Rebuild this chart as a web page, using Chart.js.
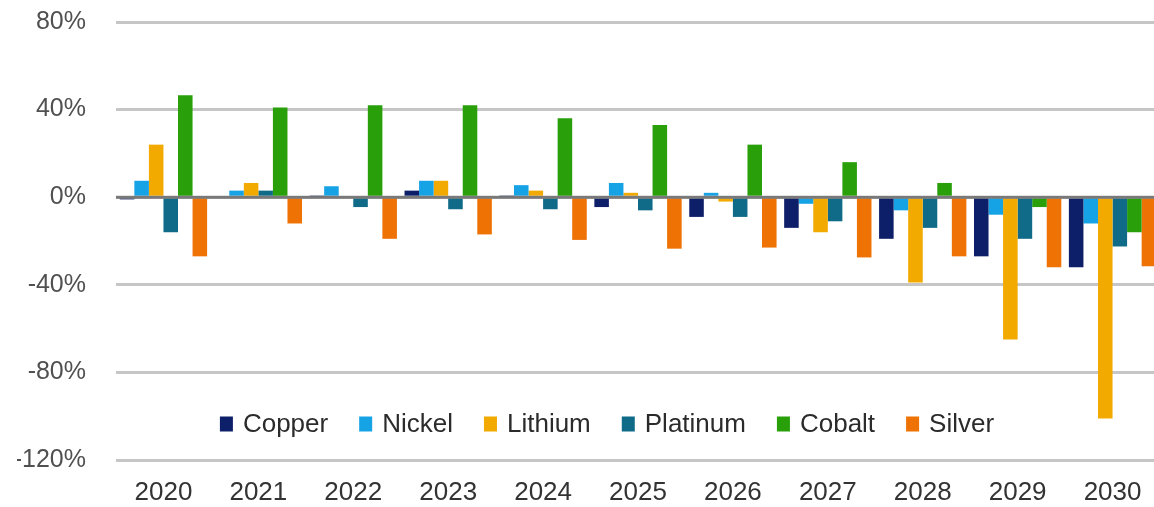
<!DOCTYPE html>
<html>
<head>
<meta charset="utf-8">
<script src="https://cdn.jsdelivr.net/npm/chart.js@4/dist/chart.umd.min.js"></script>
<style>
  html, body { margin: 0; padding: 0; background: #ffffff; overflow: hidden; }
  #wrap { width: 1162px; height: 507px; }
</style>
</head>
<body>
<div id="wrap"><canvas id="c" width="1162" height="507"></canvas></div>
<script>
// Year-on-year change by metal, in percent
const years = ['2020', '2021', '2022', '2023', '2024', '2025', '2026', '2027', '2028', '2029', '2030'];
const copper   = [-1, 0, 0.5, 3, 0.5, -4.5, -9, -14, -19, -27, -32];
const nickel   = [7.5, 3, 5, 7.5, 5.5, 6.5, 2, -3, -6, -8, -12];
const lithium  = [24, 6.5, 0, 7.5, 3, 2, -2, -16, -39, -65, -101];
const platinum = [-16, 3, -4.5, -5.5, -5.5, -6, -9, -11, -14, -19, -22.5];
const cobalt   = [46.5, 41, 42, 42, 36, 33, 24, 16, 6.5, -4.5, -16];
const silver   = [-27, -12, -19, -17, -19.5, -23.5, -23, -27.5, -27, -32, -31.5];
const yTickValues = [80, 40, 0, -40, -80, -120];

const seriesNames  = ['Copper', 'Nickel', 'Lithium', 'Platinum', 'Cobalt', 'Silver'];
const seriesValues = [copper, nickel, lithium, platinum, cobalt, silver];
const seriesColors = ['#0d1f68', '#16a3e6', '#f3aa00', '#0f6b87', '#29a00a', '#ee7204'];

const FONT = 'Liberation Sans, Arial, sans-serif';

// Darker axis line at 0%, drawn over the bars
const zeroLine = {
  id: 'zeroLine',
  afterDatasetsDraw(chart) {
    const { ctx, chartArea, scales } = chart;
    const y = scales.y.getPixelForValue(0);
    ctx.save();
    ctx.strokeStyle = 'rgba(70,70,70,0.6)';
    ctx.lineWidth = 3;
    ctx.beginPath();
    ctx.moveTo(chartArea.left, y);
    ctx.lineTo(chartArea.right, y);
    ctx.stroke();
    ctx.restore();
  }
};

// Single-row legend placed inside the plot, near the bottom
const innerLegend = {
  id: 'innerLegend',
  afterDraw(chart) {
    const { ctx } = chart;
    const boxW = 13, boxH = 15, boxGap = 10, itemGap = 31;
    const cy = 424, cx = 607;
    ctx.save();
    ctx.font = '26px ' + FONT;
    ctx.textBaseline = 'middle';
    const items = chart.data.datasets.map(ds => ({
      label: ds.label, color: ds.backgroundColor, w: ctx.measureText(ds.label).width
    }));
    const total = items.reduce((s, it) => s + boxW + boxGap + it.w, 0) + itemGap * (items.length - 1);
    let x = cx - total / 2;
    items.forEach(it => {
      ctx.fillStyle = it.color;
      ctx.fillRect(x, cy - boxH / 2, boxW, boxH);
      x += boxW + boxGap;
      ctx.fillStyle = '#2b2b2b';
      ctx.fillText(it.label, x, cy + 1);
      x += it.w + itemGap;
    });
    ctx.restore();
  }
};

new Chart(document.getElementById('c'), {
  type: 'bar',
  data: {
    labels: years,
    datasets: seriesNames.map((name, i) => ({
      label: name,
      data: seriesValues[i],
      backgroundColor: seriesColors[i],
      borderWidth: 0,
      categoryPercentage: 0.92,
      barPercentage: 1.0
    }))
  },
  options: {
    responsive: false,
    animation: false,
    layout: { padding: { left: 17, right: 2, top: 22, bottom: 0 } },
    plugins: {
      legend: { display: false },
      tooltip: { enabled: false }
    },
    scales: {
      x: {
        grid: { display: false, drawTicks: false },
        border: { display: false },
        afterFit(scale) { scale.height = 47; },
        ticks: {
          padding: 17,
          color: '#333333',
          font: { family: FONT, size: 26 },
          maxRotation: 0
        }
      },
      y: {
        min: -120,
        max: 80,
        afterBuildTicks(scale) {
          scale.ticks = yTickValues.map(v => ({ value: v }));
        },
        afterFit(scale) {
          scale.width = 99;
          scale.paddingTop = 0;
          scale.paddingBottom = 0;
        },
        grid: { color: '#c6c6c6', lineWidth: 3, drawTicks: false },
        border: { display: false },
        ticks: {
          padding: 30,
          color: '#505050',
          font: { family: FONT, size: 25 },
          callback: v => v + '%'
        }
      }
    }
  },
  plugins: [zeroLine, innerLegend]
});
</script>
</body>
</html>
